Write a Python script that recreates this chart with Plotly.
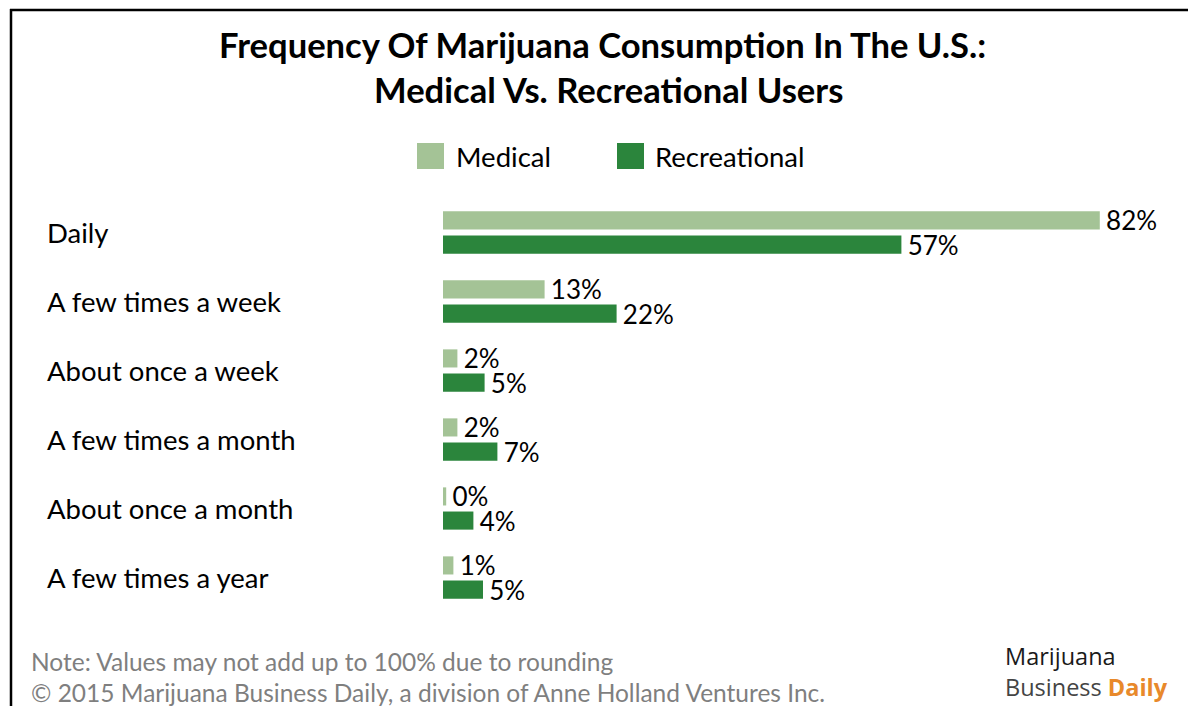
import plotly.graph_objects as go

# Survey answers, top to bottom
categories = [
    "Daily",
    "A few times a week",
    "About once a week",
    "A few times a month",
    "About once a month",
    "A few times a year",
]
# Share of users (%), labels are shown rounded to whole percent
medical = [82.1, 12.7, 1.8, 1.8, 0.4, 1.3]
recreational = [57.3, 21.7, 5.2, 6.8, 3.8, 5.0]
series_names = ["Medical", "Recreational"]
series_colors = ["#a4c396", "#2b853c"]

title_lines = ["Frequency Of Marijuana Consumption In The U.S.:", "Medical Vs. Recreational Users"]
note_lines = [
    "Note: Values may not add up to 100% due to rounding",
    "\u00a9 2015 Marijuana Business Daily, a division of Anne Holland Ventures Inc.",
]

W, H = 1188, 706
ML, MR, MT, MB = 443, 25, 198, 94
PW, PH = W - ML - MR, H - MT - MB
FONT = "Lato"


def px2x(px):
    return (px - ML) / PW


def px2y(py):
    return (H - MB - py) / PH


fig = go.Figure()
for name, vals, col in zip(series_names, [medical, recreational], series_colors):
    fig.add_trace(go.Bar(
        name=name, y=categories, x=vals, orientation="h",
        marker=dict(color=col, line=dict(width=0)),
        texttemplate="\u2009%{x:.0f}%", textposition="outside",
        constraintext="none",
        textfont=dict(family=FONT, size=26, color="#000000"),
        cliponaxis=False, showlegend=False,
    ))

annotations = []
# category labels, left aligned
for c in categories:
    annotations.append(dict(
        x=px2x(45), xref="paper", y=c, yref="y", text=c, showarrow=False,
        xanchor="left", yanchor="middle",
        font=dict(family=FONT, size=27.5, color="#000000"),
    ))

# legend
shapes = []
legend_items = [(417, 454), (617, 653)]
for (sx, tx), name, col in zip(legend_items, series_names, series_colors):
    shapes.append(dict(
        type="rect", xref="paper", yref="paper",
        x0=px2x(sx), x1=px2x(sx + 27), y0=px2y(169), y1=px2y(143),
        fillcolor=col, line=dict(width=0),
    ))
    annotations.append(dict(
        x=px2x(tx), xref="paper", y=px2y(156), yref="paper", text=name,
        showarrow=False, xanchor="left", yanchor="middle",
        font=dict(family=FONT, size=27.5, color="#000000"),
    ))

# title
for line, cx, cy in zip(title_lines, [602, 608], [45, 90]):
    annotations.append(dict(
        x=px2x(cx), xref="paper", y=px2y(cy), yref="paper",
        text="<b>" + line + "</b>", showarrow=False,
        xanchor="center", yanchor="middle",
        font=dict(family=FONT, size=34.6, color="#000000"),
    ))

# footnotes
for i, line in enumerate(note_lines):
    annotations.append(dict(
        x=px2x(29), xref="paper", y=px2y(661 + 31 * i), yref="paper",
        text=line, showarrow=False, xanchor="left", yanchor="middle",
        font=dict(family=FONT, size=24.5, color="#7f7f7f"),
    ))

# publisher mark
annotations.append(dict(
    x=px2x(1004), xref="paper", y=px2y(671), yref="paper",
    text="<span style='color:#1a1a1a'>Marijuana</span><br>"
         "<span style='color:#444444'>Business</span> "
         "<b><span style='color:#e8892b'>Daily</span></b>",
    showarrow=False, xanchor="left", yanchor="middle", align="left",
    borderpad=0,
    font=dict(family="Open Sans", size=23.5, color="#444444"),
))

# frame lines
shapes.append(dict(type="line", xref="paper", yref="paper",
                   x0=px2x(11), x1=px2x(11), y0=px2y(9), y1=px2y(H + 5),
                   line=dict(color="#000000", width=2.5)))
shapes.append(dict(type="line", xref="paper", yref="paper",
                   x0=px2x(10), x1=px2x(W + 5), y0=px2y(10), y1=px2y(10),
                   line=dict(color="#000000", width=2.5)))

fig.update_layout(
    width=W, height=H,
    margin=dict(l=ML, r=MR, t=MT, b=MB, pad=0),
    paper_bgcolor="#ffffff", plot_bgcolor="#ffffff",
    barmode="group", bargap=0.30, bargroupgap=0.25,
    xaxis=dict(range=[0, 90], visible=False, fixedrange=True),
    yaxis=dict(autorange="reversed", showticklabels=False, showgrid=False,
               zeroline=False, showline=False, ticks=""),
    annotations=annotations, shapes=shapes,
    showlegend=False,
    font=dict(family=FONT),
)

fig.write_html("out.html")
